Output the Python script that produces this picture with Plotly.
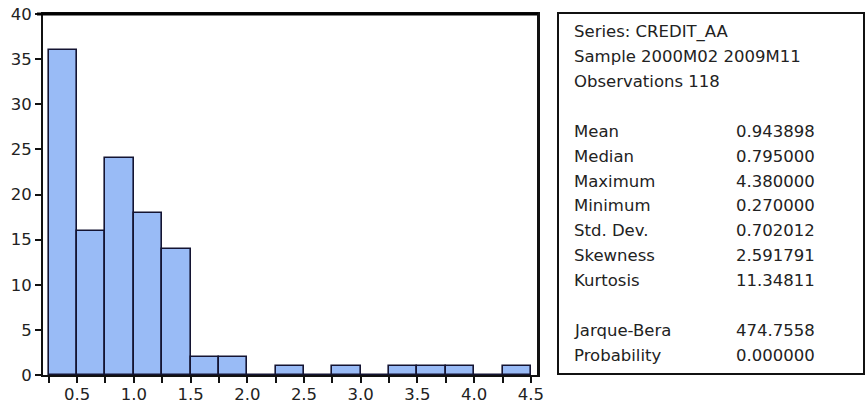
import plotly.graph_objects as go

# Histogram data (bin edges of width 0.25 and counts)
bin_edges = [0.25, 0.50, 0.75, 1.00, 1.25, 1.50, 1.75, 2.00, 2.25, 2.50,
             2.75, 3.00, 3.25, 3.50, 3.75, 4.00, 4.25, 4.50]
counts = [36, 16, 24, 18, 14, 2, 2, 0, 1, 0, 1, 0, 1, 1, 1, 0, 1]

x_tick_vals = [0.5, 1.0, 1.5, 2.0, 2.5, 3.0, 3.5, 4.0, 4.5]
x_tick_text = ["0.5", "1.0", "1.5", "2.0", "2.5", "3.0", "3.5", "4.0", "4.5"]
y_tick_vals = [0, 5, 10, 15, 20, 25, 30, 35, 40]

header_lines = ["Series: CREDIT_AA", "Sample 2000M02 2009M11", "Observations 118"]
stat_labels = ["Mean", "Median", "Maximum", "Minimum", "Std. Dev.", "Skewness", "Kurtosis"]
stat_values = ["0.943898", "0.795000", "4.380000", "0.270000", "0.702012", "2.591791", "11.34811"]
test_labels = ["Jarque-Bera", "Probability"]
test_values = ["474.7558", "0.000000"]

W, H = 866, 405
L, R, T, B = 43, 538, 14, 375  # plot area in pixels
FONT = "DejaVu Sans"
FS = 16.5

def px(x):
    return (x - L) / (R - L)

def py(y):
    return (B - y) / (B - T)

centers = [(a + b) / 2 for a, b in zip(bin_edges[:-1], bin_edges[1:])]
widths = [b - a for a, b in zip(bin_edges[:-1], bin_edges[1:])]

fig = go.Figure()
fig.add_trace(go.Bar(
    x=centers, y=counts, width=widths,
    marker=dict(color="#99BBF6", line=dict(color="#141432", width=1.6)),
    hoverinfo="skip",
))

line_col = "#111111"
fig.update_layout(
    width=W, height=H,
    margin=dict(l=L, r=W - R, t=T, b=H - B, pad=0),
    paper_bgcolor="white", plot_bgcolor="white",
    showlegend=False, bargap=0,
    font=dict(family=FONT, size=FS, color="#222222"),
    xaxis=dict(
        range=[0.2, 4.562], tickvals=x_tick_vals, ticktext=x_tick_text,
        ticks="outside", ticklen=6, tickwidth=1.5, tickcolor=line_col,
        showline=True, linecolor=line_col, linewidth=2, mirror=True,
        showgrid=False, zeroline=False, automargin=False,
        ticklabeloverflow="allow", ticklabelstandoff=-3,
        minor=dict(tickvals=bin_edges, ticks="outside", ticklen=6,
                   tickwidth=1.5, tickcolor=line_col, showgrid=False),
        tickfont=dict(family=FONT, size=FS, color="#222222"),
    ),
    yaxis=dict(
        range=[0, 40], tickvals=y_tick_vals,
        ticks="outside", ticklen=6, tickwidth=1.5, tickcolor=line_col,
        showline=True, linecolor=line_col, linewidth=2, mirror=True,
        showgrid=False, zeroline=False, automargin=False,
        ticklabeloverflow="allow",
        tickfont=dict(family=FONT, size=FS, color="#222222"),
    ),
)

# Plot frame: explicit top and right border lines
fig.add_shape(type="line", xref="paper", yref="paper", x0=px(37), x1=1, y0=1, y1=1,
              line=dict(color="#000000", width=3), layer="above")
fig.add_shape(type="line", xref="paper", yref="paper", x0=1, x1=1, y0=0, y1=1,
              line=dict(color=line_col, width=2), layer="above")

# Statistics box
fig.add_shape(type="rect", xref="paper", yref="paper",
              x0=px(558), x1=px(864), y0=py(374), y1=py(13),
              line=dict(color="#111111", width=2), fillcolor="white", layer="above")

def line_y(i):
    return 32 + 24.85 * i

def add_text(txt, x, i):
    fig.add_annotation(text=txt, xref="paper", yref="paper",
                       x=px(x), y=py(line_y(i)), xanchor="left", yanchor="middle",
                       showarrow=False, font=dict(family=FONT, size=FS, color="#222222"))

for i, t in enumerate(header_lines):
    add_text(t, 572, i)
for j, (lab, val) in enumerate(zip(stat_labels, stat_values)):
    add_text(lab, 572, 4 + j)
    add_text(val, 734, 4 + j)
for j, (lab, val) in enumerate(zip(test_labels, test_values)):
    add_text(lab, 572, 12 + j)
    add_text(val, 734, 12 + j)

fig.write_html(
    "out.html",
    config={"displayModeBar": False},
    post_script="document.body.style.margin='0';document.body.style.overflow='hidden';",
)
